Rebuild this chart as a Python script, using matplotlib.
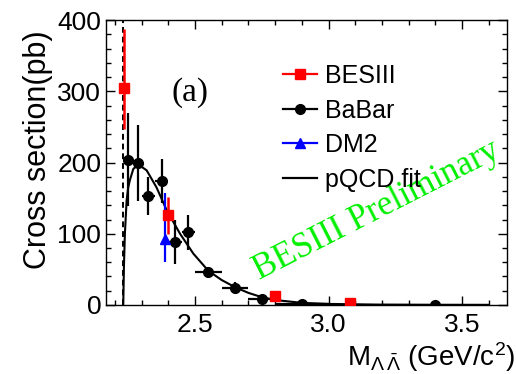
import matplotlib
matplotlib.use("Agg")
import matplotlib.pyplot as plt
from matplotlib.lines import Line2D
from matplotlib.ticker import MultipleLocator

plt.rcParams['font.family'] = ['Liberation Sans', 'DejaVu Sans']
plt.rcParams['mathtext.fontset'] = 'custom'
plt.rcParams['mathtext.rm'] = 'Liberation Sans'
plt.rcParams['mathtext.it'] = 'Liberation Sans'
plt.rcParams['mathtext.sf'] = 'Liberation Sans'

# Lambda-antiLambda production threshold (GeV)
threshold = 2.2314

# BESIII measurements
besiii_x = [2.2324, 2.400, 2.800, 3.080]
besiii_y = [305, 126, 13, 2.5]
besiii_err_lo = [58, 26, 4, 1.5]
besiii_err_hi = [83, 25, 4, 1.5]

# BaBar measurements
babar_x = [2.250, 2.285, 2.325, 2.375, 2.425, 2.475, 2.550, 2.650, 2.750, 2.900, 3.400]
babar_xerr = [0.02, 0.015, 0.025, 0.025, 0.025, 0.025, 0.05, 0.05, 0.05, 0.10, 0.20]
babar_y = [204, 199, 153, 174, 88, 102, 46, 24, 8, 0.8, 0.4]
babar_yerr = [65, 53, 27, 31, 31, 25, 8, 8, 6, 1.0, 0.5]

# DM2 measurement
dm2_x = [2.386]
dm2_y = [92]
dm2_err_lo = [31]
dm2_err_hi = [65]

# pQCD fit curve, sampled along the drawn line
fit_x = [2.2314, 2.234, 2.2375, 2.244, 2.250, 2.256, 2.269, 2.284, 2.300, 2.319,
         2.356, 2.394, 2.444, 2.494, 2.550, 2.600, 2.650, 2.700, 2.750, 2.800,
         2.900, 3.000, 3.200, 3.400, 3.600]
fit_y = [0, 55, 100, 147, 165, 175, 191, 196, 194, 189,
         165, 133, 100, 72, 48, 35, 25, 17, 11, 7,
         3, 1.5, 0.5, 0.2, 0.1]

fig = plt.figure(figsize=(5.16, 3.74), dpi=100)
ax = fig.add_axes([0.2045, 0.1845, 0.7780, 0.7620])

ax.plot([threshold, threshold], [0, 400], color='black', lw=1.4, ls=(0, (3, 2)), zorder=2)
ax.plot(fit_x, fit_y, color='black', lw=1.5, zorder=3)

ax.errorbar(babar_x, babar_y, xerr=babar_xerr, yerr=babar_yerr, fmt='o', color='black',
            ms=7, elinewidth=1.6, capsize=0, zorder=4)
ax.errorbar(dm2_x, dm2_y, yerr=[dm2_err_lo, dm2_err_hi], fmt='^', color='#0000ff',
            ms=7, elinewidth=1.6, capsize=0, zorder=5)
ax.errorbar(besiii_x, besiii_y, yerr=[besiii_err_lo, besiii_err_hi], fmt='s', color='#ff0000',
            ms=7, elinewidth=1.8, capsize=0, zorder=6)

ax.set_xlim(2.165, 3.668)
ax.set_ylim(0, 400)
ax.xaxis.set_major_locator(MultipleLocator(0.5))
ax.xaxis.set_minor_locator(MultipleLocator(0.1))
ax.yaxis.set_major_locator(MultipleLocator(100))
ax.yaxis.set_minor_locator(MultipleLocator(20))
ax.tick_params(which='both', direction='in', top=True, right=True, width=1.0, labelsize=19)
ax.tick_params(which='major', length=6.5)
ax.tick_params(which='minor', length=3.5)
ax.tick_params(axis='x', pad=6)
ax.tick_params(axis='y', pad=3)
for s in ax.spines.values():
    s.set_linewidth(1.0)

ax.set_ylabel('Cross section(pb)', fontsize=22, loc='top')
ax.yaxis.set_label_coords(-0.13, 0.965)
ax.set_xlabel(r'M$_{\Lambda\,\bar{\Lambda}}$ (GeV/c$^{2}$)', fontsize=20, loc='right')
ax.xaxis.set_label_coords(1.021, -0.125)

handles = [
    Line2D([], [], color='#ff0000', marker='s', ms=7, lw=1.6),
    Line2D([], [], color='black', marker='o', ms=7, lw=1.6),
    Line2D([], [], color='#0000ff', marker='^', ms=7, lw=1.6),
    Line2D([], [], color='black', lw=1.6),
]
labels = ['BESIII', 'BaBar', 'DM2', 'pQCD fit']
ax.legend(handles, labels, loc='upper left', bbox_to_anchor=(0.4426, 0.845), frameon=False,
          fontsize=18, handlelength=1.36, handletextpad=0.3, labelspacing=0.42,
          borderpad=0, borderaxespad=0)

ax.text(0.211, 0.747, '(a)', transform=ax.transAxes, fontsize=24,
        family='Liberation Serif', ha='center', va='center')
ax.text(0.675, 0.33, 'BESIII Preliminary', transform=ax.transAxes, fontsize=25,
        family='Liberation Serif', color='#00f000', rotation=27,
        ha='center', va='center', rotation_mode='anchor')

fig.savefig('out.png', dpi=100)
